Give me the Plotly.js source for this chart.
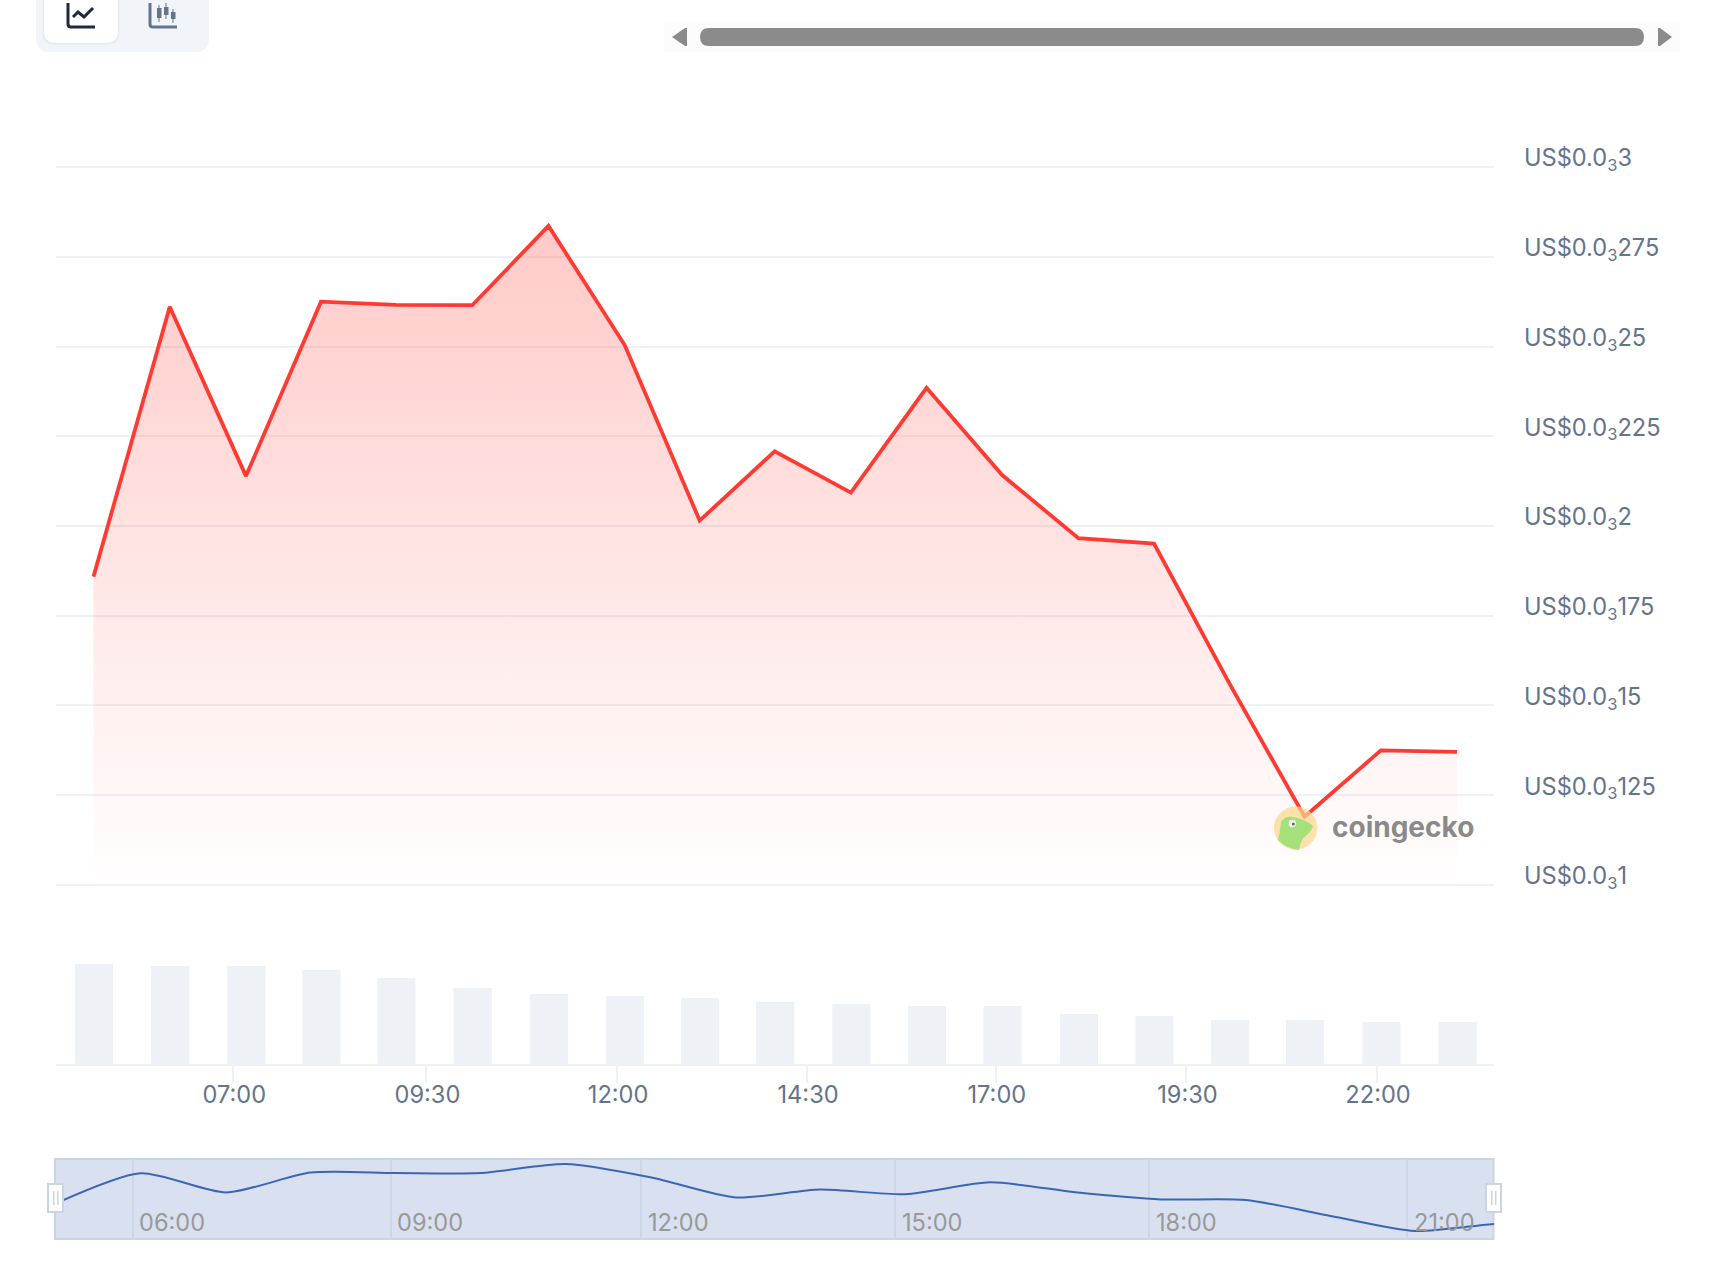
<!DOCTYPE html>
<html>
<head>
<meta charset="utf-8">
<script src="https://cdn.plot.ly/plotly-3.0.1.min.js"></script>
<style>html,body{margin:0;padding:0;background:#fff;overflow:hidden}#c{width:1717px;height:1277px}</style>
</head>
<body>
<div id="c"></div>
<script>
const DAY = '2024-01-01 ';
const times = ['05:10:00','06:10:00','07:10:00','08:09:00','09:08:00','10:08:00','11:08:00','12:08:00','13:07:00','14:06:00','15:06:00','16:05:30','17:05:00','18:05:00','19:04:30','20:04:00','21:03:00','22:03:00','23:03:00'];
const prices = [0.0001859,0.0002611,0.0002139,0.0002625,0.0002616,0.0002615,0.0002836,0.0002504,0.0002015,0.0002208,0.0002093,0.0002385,0.0002142,0.0001966,0.0001951,0.000156,0.000119,0.0001375,0.0001371];
const volumes = [100,98,98,94,86,76,70,68,66,62,60,58,58,50,48,44,44,42,42];
const priceTicks = [0.0001,0.000125,0.00015,0.000175,0.0002,0.000225,0.00025,0.000275,0.0003];
const priceTickLabels = ['US$0.0<sub>3</sub>1','US$0.0<sub>3</sub>125','US$0.0<sub>3</sub>15','US$0.0<sub>3</sub>175','US$0.0<sub>3</sub>2','US$0.0<sub>3</sub>225','US$0.0<sub>3</sub>25','US$0.0<sub>3</sub>275','US$0.0<sub>3</sub>3'];
const mainTickLabels = ['07:00','09:30','12:00','14:30','17:00','19:30','22:00'];
const mainTickTimes = ['07:00:00','09:32:00','12:02:00','14:31:30','17:00:00','19:30:00','22:00:00'];
const navTickLabels = ['06:00','09:00','12:00','15:00','18:00','21:00'];
const navTickTimes = ['06:04:30','09:05:15','12:00:40','14:58:40','17:56:40','20:57:30'];

const W = 1717, H = 1277;
const fx = p => p / W, fy = p => 1 - p / H;
const stamp = t => DAY + t;
const xs = times.map(stamp);
const FONT = 'Inter, "Noto Sans", sans-serif';
const TXT = '#64748b';

function rect(x0, y0, x1, y1, fill, line, lw, layer) {
  return {type:'rect', xref:'paper', yref:'paper', x0:fx(x0), x1:fx(x1), y0:fy(y0), y1:fy(y1),
    fillcolor:fill, line:{color:line||'rgba(0,0,0,0)', width:lw||0}, layer:layer||'above'};
}
function path(pts, fill, line, lw, layer) {
  const d = pts.replace(/(-?[\d.]+),(-?[\d.]+)/g, (m,a,b) => fx(+a).toFixed(6)+','+fy(+b).toFixed(6));
  return {type:'path', xref:'paper', yref:'paper', path:d, fillcolor:fill||'rgba(0,0,0,0)',
    line:{color:line||'rgba(0,0,0,0)', width:lw||0}, layer:layer||'above'};
}
function rrect(x0,y0,x1,y1,r,fill,line,lw,layer){
  return path(`M${x0+r},${y0} L${x1-r},${y0} Q${x1},${y0} ${x1},${y0+r} L${x1},${y1-r} Q${x1},${y1} ${x1-r},${y1} L${x0+r},${y1} Q${x0},${y1} ${x0},${y1-r} L${x0},${y0+r} Q${x0},${y0} ${x0+r},${y0} Z`,fill,line,lw,layer);
}
function circle(cx,cy,r,fill){
  return {type:'circle', xref:'paper', yref:'paper', x0:fx(cx-r), x1:fx(cx+r), y0:fy(cy+r), y1:fy(cy-r), fillcolor:fill, line:{width:0}, layer:'above'};
}

const shapes = [
  rrect(36,-14,209,52,14,'#f1f5f9'),
  rrect(42.5,-14,119.5,44.5,12,'#e6ebf3'),
  rrect(44,-14,118,43,12,'#ffffff'),
  path('M68,3 L68,24 Q68,27 71,27 L95,27', null, '#1e293b', 3),
  path('M73,17 L78,12 L84,17 L93,8', null, '#1e293b', 3),
  path('M150,3 L150,24 Q150,27 153,27 L177,27', null, '#64748b', 3),
  path('M159,5 L159,22', null, '#64748b', 1),
  path('M166,3 L166,19', null, '#64748b', 1),
  path('M173,9 L173,23', null, '#64748b', 1),
  rect(157,8,161.5,18,'#64748b'),
  rect(164,7,168.5,15,'#64748b'),
  rect(171,12,175.5,19,'#64748b'),
  rect(664,23,1680,52,'#fcfcfc'),
  rrect(700,28,1644,46,9,'#8b8b8b'),
  path('M687,28 L687,46 L685,46 L672,37 L685,28 Z','#8b8b8b'),
  path('M1658,28 L1658,46 L1660,46 L1672,37 L1660,28 Z','#8b8b8b'),
  rect(55,1159,1493.5,1239,'#d9e0f0','#cbd5e1',2,'below'),
  rect(48,1184,63,1212,'#ffffff','#cbd5e1',2),
  rect(53,1191,54.5,1205,'#cbd5e1'),
  rect(57,1191,58.5,1205,'#cbd5e1'),
  rect(1486,1184,1501,1212,'#ffffff','#cbd5e1',2),
  rect(1491,1191,1492.5,1205,'#cbd5e1'),
  rect(1495,1191,1496.5,1205,'#cbd5e1'),
  circle(1295.7,828,21.7,'rgba(250,215,140,0.72)'),
  path('M1281,822 Q1284,816 1293,817 Q1305,819 1313,826 Q1311,833 1303,838 Q1300,843 1299,850 Q1287,849 1278,840 Q1280,832 1281,822 Z','#a6e07a'),
  circle(1292.3,823.5,3.7,'#f4f4f4'),
  circle(1293.3,824,1.5,'#666666')
];

const data = [
  {type:'scatter', mode:'lines', x:xs, y:prices, xaxis:'x', yaxis:'y',
   line:{color:'#ff3a33', width:3.8, shape:'linear'},
   fill:'tozeroy',
   fillgradient:{type:'vertical', start:0.0000995, stop:0.000284,
     colorscale:[[0,'rgba(255,58,51,0)'],[1,'rgba(255,58,51,0.27)']]},
   hoverinfo:'skip', showlegend:false},
  {type:'bar', x:xs, y:volumes, width:1800000, offset:-878000, xaxis:'x', yaxis:'y2',
   marker:{color:'#eef1f5', line:{width:0}}, hoverinfo:'skip', showlegend:false},
  {type:'scatter', mode:'lines', x:xs, y:prices, xaxis:'x2', yaxis:'y3',
   line:{color:'#3b66b5', width:2, shape:'spline', smoothing:0.7},
   hoverinfo:'skip', showlegend:false}
];

const navAnnotations = navTickLabels.map((label,i) => ({
  xref:'x2', yref:'paper', x:stamp(navTickTimes[i]), y:fy(1222), xanchor:'left', yanchor:'middle',
  xshift:4.5, showarrow:false, text:label, font:{family:FONT,size:23.6,color:'#999999'}
}));

const layout = {
  width:W, height:H, margin:{l:0,r:0,t:0,b:0},
  paper_bgcolor:'#ffffff', plot_bgcolor:'rgba(0,0,0,0)',
  font:{family:FONT, color:TXT, size:23.6},
  showlegend:false,
  xaxis:{type:'date', domain:[fx(56),fx(1494)], anchor:'y2',
    range:[stamp('04:40:30'),stamp('23:32:02')],
    tickmode:'array', tickvals:mainTickTimes.map(stamp), ticktext:mainTickLabels,
    showgrid:false, zeroline:false, showline:true, linecolor:'#eef1f5', linewidth:2,
    ticks:'outside', ticklen:17, tickwidth:2, tickcolor:'#eef1f5',
    tickfont:{family:FONT,size:23.6,color:TXT}, ticklabelstandoff:-8, ticklabelshift:1, fixedrange:true},
  yaxis:{domain:[fy(887),fy(165)], anchor:'x', side:'right', range:[0.00009944,0.00030056],
    tickmode:'array', tickvals:priceTicks, ticktext:priceTickLabels,
    showgrid:true, gridcolor:'#eef1f5', gridwidth:2, zeroline:false, showline:false,
    ticks:'', ticklabelstandoff:29, ticklabelshift:-9,
    tickfont:{family:FONT,size:23.6,color:TXT}, fixedrange:true},
  yaxis2:{domain:[fy(1064),fy(944)], anchor:'x', range:[0,120], visible:false, fixedrange:true},
  xaxis2:{type:'date', domain:[fx(55),fx(1494)], anchor:'y3',
    range:[stamp('05:10:00'),stamp('21:58:24')],
    tickmode:'array', tickvals:navTickTimes.map(stamp), showticklabels:false, ticks:'',
    showgrid:true, gridcolor:'#cdd6e4', gridwidth:2, zeroline:false, showline:false, fixedrange:true},
  yaxis3:{domain:[fy(1239),fy(1158)], anchor:'x2', range:[0.0000993,0.0002984], visible:false, fixedrange:true},
  shapes:shapes,
  annotations:[
    {xref:'paper', yref:'paper', x:fx(1330), y:fy(827), xanchor:'left', yanchor:'middle', showarrow:false,
     text:'<b>coingecko</b>', font:{family:'Inter, sans-serif', size:28, color:'#8a8a8a'}}
  ].concat(navAnnotations)
};
Plotly.newPlot('c', data, layout, {displayModeBar:false, responsive:false, staticPlot:true});
</script>
</body>
</html>
